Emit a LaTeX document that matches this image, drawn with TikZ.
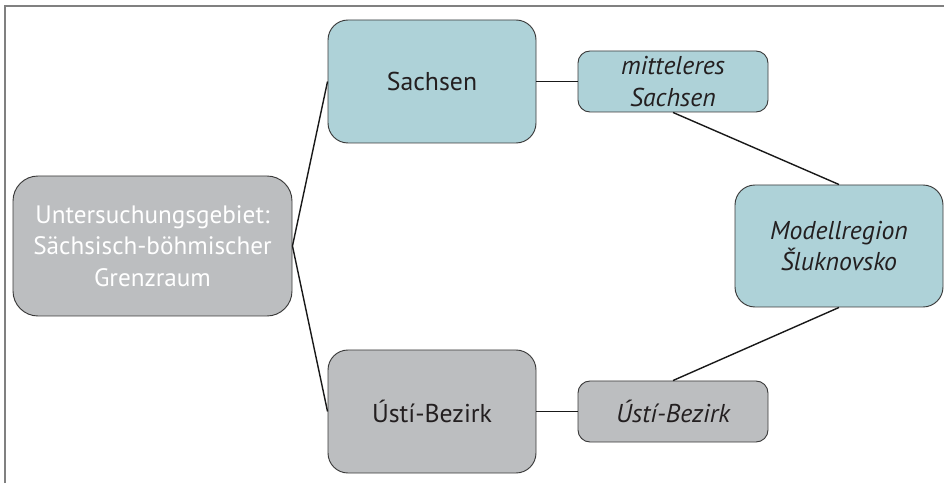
\documentclass[tikz,border=0pt]{standalone}
\usepackage{fontspec}
\setmainfont{PT Sans}
\definecolor{boxblue}{HTML}{AED2D8}
\definecolor{boxgray}{HTML}{BCBEC0}
\definecolor{boxline}{HTML}{3A3A3A}
\definecolor{textdark}{HTML}{231F20}
\tikzset{
  box/.style={draw=boxline, line width=0.8pt, align=center, text=textdark, inner sep=0pt,
    font=\fontsize{22}{27}\selectfont},
  bigbox/.style={box, rounded corners=0.6cm, minimum width=6.240cm, minimum height=3.690cm},
  smallbox/.style={box, rounded corners=0.36cm, minimum width=5.700cm, minimum height=1.830cm,
    font=\fontsize{22}{27}\selectfont\itshape},
  link/.style={line width=1.2pt, draw=black!90}
}

\begin{document}
\begin{tikzpicture}
\useasboundingbox (0,0) rectangle (28.320,14.490);
\draw[line width=1.2pt, gray] (0.150,0) -- (0.150,14.310) -- (28.320,14.310);
\node[box, fill=boxgray, text=white, rounded corners=0.75cm, minimum width=8.370cm, minimum height=4.200cm, font=\fontsize{21.5}{27}\selectfont] (gebiet) at (4.575,7.110) {Untersuchungsgebiet:\\Sächsisch-böhmischer\\Grenzraum};
\node[bigbox, fill=boxblue] (sachsen) at (12.960,12.045) {Sachsen};
\node[bigbox, fill=boxgray] (usti) at (12.960,2.145) {Ústí-Bezirk};
\node[smallbox, fill=boxblue] (mittel) at (20.190,12.045) {mitteleres\\Sachsen};
\node[smallbox, fill=boxgray] (ustiklein) at (20.190,2.145) {Ústí-Bezirk};
\node[bigbox, fill=boxblue, font=\fontsize{22}{27}\selectfont\itshape, minimum height=3.660cm] (modell) at (25.170,7.110) {Modellregion\\Šluknovsko};
\draw[link] (gebiet.east) -- (sachsen.west);
\draw[link] (gebiet.east) -- (usti.west);
\draw[link] (sachsen.east) -- (mittel.west);
\draw[link] (usti.east) -- (ustiklein.west);
\draw[link] (mittel.south) -- (modell.north);
\draw[link] (modell.south) -- (ustiklein.north);
\end{tikzpicture}
\end{document}
